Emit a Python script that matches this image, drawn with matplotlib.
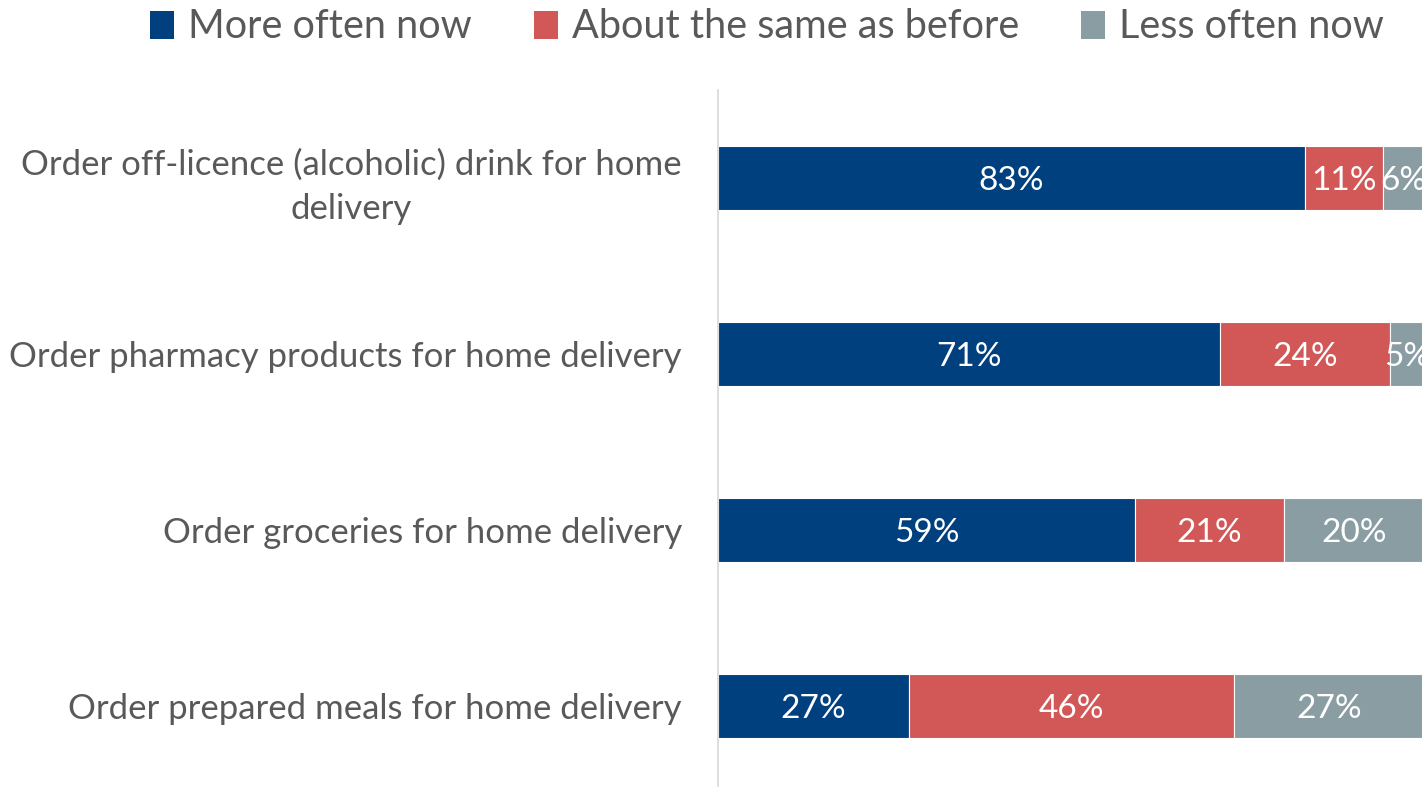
import matplotlib
matplotlib.use("Agg")
import matplotlib.pyplot as plt
from matplotlib.patches import Patch

categories = [
    "Order off-licence (alcoholic) drink for home\ndelivery",
    "Order pharmacy products for home delivery",
    "Order groceries for home delivery",
    "Order prepared meals for home delivery",
]
series_names = ["More often now", "About the same as before", "Less often now"]
more_often = [83, 71, 59, 27]
same_as_before = [11, 24, 21, 46]
less_often = [6, 5, 20, 27]
colors = ["#00407F", "#D25858", "#899DA3"]
text_color = "#595959"

plt.rcParams["font.family"] = ["Lato", "DejaVu Sans"]

fig = plt.figure(figsize=(14.22, 7.87), dpi=100)
ax = fig.add_axes([718 / 1422, -7 / 787, 707 / 1422, 704 / 787])

ypos = list(range(len(categories)))
left = [0] * len(categories)
for name, vals, col in zip(series_names, [more_often, same_as_before, less_often], colors):
    bars = ax.barh(ypos, vals, left=left, height=0.36, color=col,
                   edgecolor="white", linewidth=0.8, label=name)
    for b, v in zip(bars, vals):
        ax.text(b.get_x() + b.get_width() / 2, b.get_y() + b.get_height() / 2,
                f"{v}%", ha="center", va="center_baseline", color="white", fontsize=24)
    left = [l + v for l, v in zip(left, vals)]

ax.set_xlim(0, 100)
ax.set_ylim(len(categories) - 0.5, -0.5)
ax.set_yticks(ypos)
ax.set_yticklabels(categories, fontsize=25, color=text_color, ha="right",
                   multialignment="center", linespacing=1.45)
ax.tick_params(axis="y", length=0, pad=26)
ax.set_xticks([])
for s in ["top", "right", "bottom"]:
    ax.spines[s].set_visible(False)
ax.spines["left"].set_color("#D9D9D9")
ax.spines["left"].set_linewidth(1.2)

handles = [Patch(facecolor=c, edgecolor="none") for c in colors]
fig.legend(handles, series_names, loc="center", bbox_to_anchor=(767 / 1422, 1 - 27 / 787),
           ncol=3, frameon=False, fontsize=28.5, labelcolor=text_color,
           handlelength=0.6, handleheight=0.7, handletextpad=0.35, columnspacing=1.58)

fig.savefig("out.png", dpi=100)
